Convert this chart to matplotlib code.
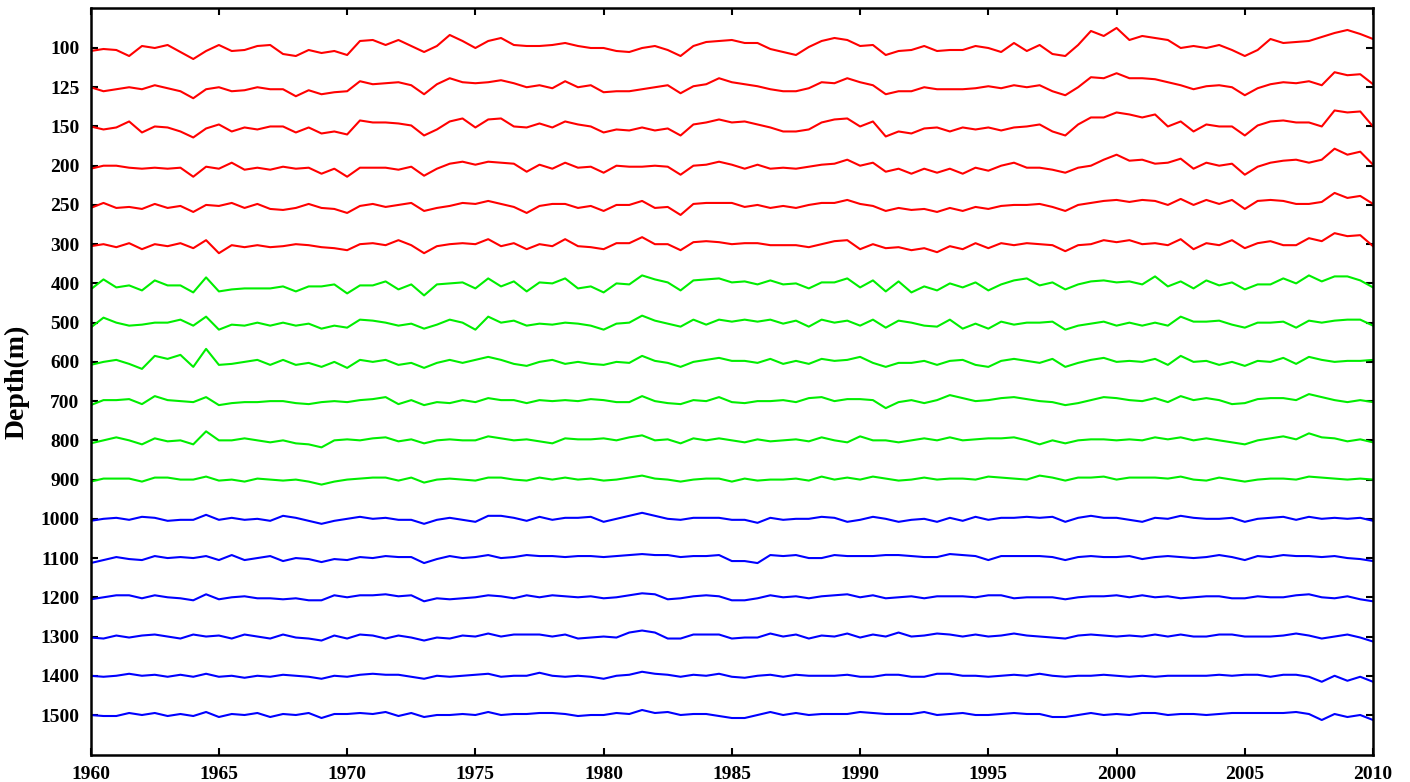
import numpy as np
import matplotlib
matplotlib.use("Agg")
import matplotlib.pyplot as plt

# time axis: half-year samples
years = np.arange(1960, 2010.01, 0.5)

depth_labels = ["100", "125", "150", "200", "250", "300", "400", "500", "600",
                "700", "800", "900", "1000", "1100", "1200", "1300", "1400", "1500"]

# anomalies (upward positive), one value per half year
s100 = [-3, -1, -2, -8, 2, 0, 3, -4, -11, -3, 3, -3, -2, 2, 3, -6, -8, -2, -5, -3, -7, 7, 8, 3, 8, 2,
        -4, 2, 13, 7, 0, 7, 10, 3, 2, 2, 3, 5, 2, 0, 0, -3, -4, 0, 2, -2, -8, 2, 6, 7, 8,
        5, 5, -1, -4, -7, 1, 7, 10, 8, 2, 3, -7, -3, -2, 2, -3, -2, -2, 2, 0, -4, 5, -3, 3, -6,
        -8, 3, 17, 12, 20, 8, 12, 10, 8, 0, 2, 0, 3, -2, -8, -2, 9, 5, 6, 7, 11, 15, 18, 14, 9]
s125 = [0, -4, -2, 0, -2, 2, -1, -4, -11, -2, 0, -4, -3, 0, -2, -2, -9, -3, -7, -5, -4, 6, 3, 4, 5, 2,
        -7, 3, 9, 5, 4, 5, 7, 4, 0, 2, -1, 6, 0, 2, -5, -4, -4, -2, 0, 2, -6, 1, 3, 9, 5,
        3, 1, -2, -4, -4, -1, 5, 4, 9, 5, 2, -7, -4, -4, 0, -2, -2, -2, -1, 1, -1, 2, 0, 2, -4,
        -8, 0, 10, 9, 14, 9, 9, 8, 5, 2, -2, 1, 2, 0, -8, -1, 3, 5, 4, 6, 2, 15, 12, 13, 3]
s150 = [0, -3, -1, 5, -6, 0, -1, -5, -11, -2, 2, -5, -1, -3, 0, 0, -6, -1, -7, -5, -8, 6, 4, 4, 3, 1,
        -9, -3, 5, 8, -1, 7, 8, 0, -1, 3, -1, 5, 2, 0, -6, -3, -4, -1, -4, -2, -9, 2, 4, 7, 4,
        5, 2, -1, -5, -5, -3, 4, 7, 8, 0, 5, -10, -5, -7, -2, -1, -5, -1, -3, -1, -4, -1, 0, 2, -5,
        -9, 2, 9, 9, 14, 12, 9, 12, 0, 5, -5, 2, 0, 0, -9, 1, 5, 6, 4, 4, 0, 16, 14, 15, 0]
s200 = [-3, 0, 0, -2, -3, -2, -3, -2, -11, -1, -3, 3, -4, -2, -4, -1, -3, -2, -8, -3, -11, -2, -2, -2, -4, -1,
        -10, -3, 2, 4, 1, 4, 3, 2, -6, 1, -3, 3, -2, -1, -7, 0, -1, -1, 0, -1, -9, 0, 1, 4, 1,
        -3, 1, -3, -2, -3, -1, 1, 2, 6, 0, 3, -6, -3, -8, -3, -7, -3, -8, -2, -5, 0, 3, -2, -2, -4,
        -7, -2, 0, 6, 11, 5, 6, 2, 3, 7, -3, 3, 0, 2, -9, -1, 3, 5, 6, 3, 6, 17, 11, 14, 1]
s250 = [-3, 2, -3, -2, -4, 1, -3, -1, -7, 0, -1, 2, -3, 1, -4, -5, -3, 1, -3, -4, -8, -1, 1, -2, 0, 2,
        -6, -3, -1, 2, 1, 4, 1, -2, -8, -1, 1, 1, -3, -1, -6, 0, 0, 4, -3, -2, -10, 1, 2, 2, 2,
        -2, 0, -3, -1, -3, 0, 2, 2, 5, 1, -1, -6, -3, -5, -4, -7, -3, -6, -2, -4, -1, 0, 0, 1, -2,
        -6, 0, 2, 4, 5, 3, 5, 4, 0, 6, 0, 5, 1, 5, -4, 4, 5, 4, 1, 1, 3, 12, 7, 9, 1]
s300 = [-2, 0, -3, 1, -5, 0, -2, 1, -4, 4, -9, -1, -3, -1, -3, -2, 0, -1, -3, -4, -6, 0, 1, -1, 4, -1,
        -9, -2, 0, 1, 0, 5, -2, 1, -5, 0, -2, 5, -2, -3, -5, 1, 1, 7, 0, 0, -6, 2, 3, 2, 0,
        1, 1, -1, -1, -1, -3, 0, 3, 4, -5, 0, -4, -3, -6, -4, -8, -2, -5, 1, -4, 1, -1, 1, 0, -1,
        -7, -1, 0, 4, 2, 4, 0, 1, -1, 5, -5, 1, -1, 4, -4, 1, 3, -1, -1, 6, 3, 11, 8, 9, -2]
s400 = [-6, 4, -4, -2, -7, 3, -2, -2, -9, 6, -8, -6, -5, -5, -5, -3, -8, -3, -3, -1, -10, -2, -2, 2, -6, -1,
        -12, -1, 0, 1, -5, 5, -3, 2, -8, 1, 0, 5, -5, -3, -9, 0, -1, 8, 4, 1, -7, 3, 4, 5, 1,
        2, -1, 3, -1, 0, -5, 1, 1, 5, -4, 3, -8, 2, -9, -3, -7, 0, -4, 1, -7, -1, 3, 5, -2, 1,
        -6, -1, 2, 3, 1, 2, -1, 7, -3, 2, -5, 3, -2, 1, -6, -1, -1, 5, 0, 8, 2, 7, 7, 3, -4]
s500 = [-5, 5, 0, -3, -2, 0, 0, 3, -3, 6, -7, -2, -3, 0, -3, 0, -3, -1, -6, -3, -5, 3, 2, 0, -3, -1,
        -6, -2, 3, 0, -7, 6, 0, 2, -3, -1, -2, 0, -1, -3, -7, -1, 0, 7, 2, -1, -4, 3, -2, 3, 1,
        3, 1, 3, -1, 2, -4, 3, 0, 2, -3, 3, -5, 2, 0, -3, -4, 3, -6, -1, -6, 1, -2, 0, 0, 1,
        -7, -3, -1, 1, -3, 0, -3, 0, -3, 6, 1, 1, 2, -2, -5, 0, 0, 1, -5, 2, 0, 2, 3, 3, -3]
s600 = [-3, 0, 2, -2, -7, 6, 3, 7, -5, 13, -3, -2, 0, 2, -3, 2, -3, -1, -5, 0, -6, 2, 0, 2, -3, -1,
        -6, -1, 2, -1, 2, 5, 2, -2, -4, 0, 2, -2, 0, -2, -3, 0, -1, 6, 1, -1, -5, 0, 2, 4, 1,
        1, -1, 3, -2, 1, -2, 3, 1, 2, 5, -1, -5, -1, -1, 1, -3, 1, 2, -3, -5, 1, 3, 1, -1, 3,
        -5, -1, 2, 4, 0, 1, 0, 3, -3, 6, 0, 1, -3, 0, -4, 1, 0, 4, -2, 5, 2, 0, 1, 1, 2]
s700 = [-4, 1, 1, 2, -3, 5, 1, 0, -1, 4, -4, -2, -1, -1, 0, 0, -2, -3, -1, 0, -1, 1, 2, 4, -3, 1,
        -4, -1, -2, 1, -1, 3, 1, 1, -2, 1, 0, 1, 0, 2, 1, -1, -1, 5, 0, -2, -3, 1, 0, 4, -1,
        -2, 0, 0, 1, -1, 3, 4, 0, 2, 2, 1, -7, -1, 1, -2, 1, 6, 3, 0, 1, 3, 4, 2, 0, -1,
        -4, -2, 1, 4, 3, 1, 0, 3, -1, 5, 1, 3, 1, -3, -2, 2, 3, 3, 1, 7, 4, 1, -1, 1, -1]
s800 = [-3, 0, 3, 0, -4, 2, -1, 0, -4, 9, 0, 0, 2, 0, -2, 0, -3, -4, -7, 0, 1, 0, 2, 3, -1, 1,
        -3, 0, 1, 0, 0, 4, 2, 0, 1, -1, -3, 2, 1, 1, 2, 0, 3, 5, 0, 1, -3, 2, 0, 2, 0,
        -2, 1, -1, 0, 1, -1, 3, 0, -2, 4, 0, 0, -2, 0, 2, 0, 3, 0, 1, 2, 2, 3, 0, -4, 0,
        -3, 0, 1, 1, 0, 1, 0, 3, 1, 3, 0, 2, 0, -2, -4, 0, 2, 4, 1, 7, 3, 2, -1, 1, -2]
s900 = [-2, 1, 1, 1, -2, 2, 2, 0, 0, 3, -1, 0, -2, 1, 0, -1, 0, -2, -5, -2, 0, 1, 2, 2, -1, 2,
        -3, 0, 1, 0, -1, 2, 2, 0, -1, 2, 0, 2, 0, 1, -1, 0, 2, 4, 1, 0, -2, 0, 1, 1, -2,
        1, -1, 0, 0, 1, -1, 3, 0, 2, 0, 3, 1, -1, 0, 2, 0, 1, 1, 0, 3, 2, 1, 0, 4, 2,
        -1, 2, 2, 3, 0, 2, 2, 2, 1, 3, 0, -1, 2, 0, -2, 0, 1, 1, 0, 3, 2, 1, 0, 1, 0]
s1000 = [-2, 0, 1, -1, 2, 1, -2, -1, -1, 4, -1, 1, -1, 0, -2, 3, 1, -2, -5, -2, 0, 2, 0, 1, -1, -1,
         -5, -1, 1, -1, -3, 3, 3, 1, -2, 2, -1, 1, 1, 2, -3, 0, 3, 6, 3, 0, -1, 1, 1, 1, -1,
         -1, -4, 1, -1, 0, 0, 2, 1, -3, -1, 2, 0, -3, -1, 0, -3, 1, -2, 2, -1, 1, 1, 2, 1, 2,
         -3, 1, 3, 1, 1, -1, -3, 1, 0, 3, 1, 0, 0, 1, -3, 0, 1, 2, -1, 2, 0, 1, 0, 1, -2]
s1100 = [-5, -2, 1, -1, -2, 2, 0, 1, 0, 2, -2, 3, -2, 0, 2, -3, 0, -1, -4, -1, -2, 1, 0, 2, 1, 1,
         -5, -1, 2, 0, 1, 3, 0, 1, 3, 2, 2, 1, 2, 2, 1, 2, 3, 4, 3, 3, 1, 2, 2, 3, -3,
         -3, -5, 3, 2, 3, 0, 0, 3, 2, 2, 2, 3, 3, 2, 1, 1, 4, 3, 2, -2, 2, 2, 2, 2, 1,
         -2, 1, 2, 1, 1, 2, -1, 1, 2, 1, 0, 1, 3, 1, -2, 2, 1, 3, 2, 2, 1, 2, 0, -1, -3]
s1200 = [-2, 0, 2, 2, -1, 2, 0, -1, -3, 3, -2, 0, 1, -1, -1, -2, -1, -3, -3, 2, 0, 2, 2, 3, 1, 2,
         -4, -1, -2, -1, 0, 2, 1, -1, 2, 0, 2, 1, 0, 1, -1, 0, 2, 4, 3, -2, -1, 1, 2, 1, -3,
         -3, -1, 2, 0, 1, -1, 1, 2, 3, 0, 2, -1, 0, 1, -1, 1, 1, 1, 0, 2, 2, -1, 0, 0, 0,
         -2, 0, 1, 1, 2, 0, 2, 0, 1, -1, 0, 1, 1, -1, -1, 1, 0, 0, 2, 3, 0, -1, 1, -2, -4]
s1300 = [-1, -2, 1, -1, 1, 2, 0, -2, 2, 0, 1, -2, 2, 0, -2, 2, -1, -2, -4, 1, -2, 2, 1, -2, 1, -1,
         -4, -1, -2, 1, 0, 3, 0, 2, 2, 2, 0, 2, -2, -1, 0, -1, 4, 6, 4, -2, -2, 2, 2, 2, -2,
         -1, -1, 3, 0, 2, -2, 1, 0, 3, -1, 2, 0, 4, 0, 1, 3, 2, 0, 2, 0, 1, 3, 1, 0, -1,
         -2, 1, 2, 1, 0, 1, 0, 2, 0, 2, 0, 0, 2, 2, 0, 0, 0, 1, 3, 1, -2, 0, 2, -1, -5]
s1400 = [0, -1, 0, 2, 0, 1, -1, 1, -1, 2, -1, 0, -2, 0, -1, 1, 0, -1, -3, 0, -1, 1, 2, 1, 1, -1,
         -3, 0, -1, 0, 1, 2, -1, 0, 0, 3, 0, -1, 0, -1, -3, 0, 1, 4, 2, 1, -1, 1, 0, 2, -1,
         -2, 0, 1, -1, 1, 0, 0, 0, 1, -1, -1, 1, 1, -1, -1, 2, 2, 0, 0, -1, 0, 1, 0, 2, 0,
         -1, 0, 0, 1, 0, -1, 0, -1, 0, 0, 0, 0, 1, 0, 1, 1, -1, 1, 1, -1, -6, 0, -5, -1, -6]
s1500 = [0, -1, -1, 2, 0, 2, -1, 1, -1, 3, -2, 1, 0, 2, -2, 1, 0, 2, -3, 1, 1, 2, 1, 3, -1, 2,
         -2, 0, 0, 1, 0, 3, 0, 1, 1, 2, 2, 1, -1, 0, 0, 2, 1, 5, 2, 3, 0, 1, 1, -1, -3,
         -3, 0, 3, 0, 2, 0, 1, 1, 1, 3, 2, 1, 1, 1, 3, 0, 1, 2, 0, 0, 1, 2, 1, 1, -2,
         -2, 0, 2, 0, 1, 0, 2, 2, 0, 1, 1, 0, 1, 2, 2, 2, 2, 2, 3, 1, -5, 1, -2, 0, -5]

series = [s100, s125, s150, s200, s250, s300,
          s400, s500, s600, s700, s800, s900,
          s1000, s1100, s1200, s1300, s1400, s1500]
colors = ["#ff0000"] * 6 + ["#00ee00"] * 6 + ["#0000ff"] * 6

scale = 1 / 39.2  # anomaly units per depth-row spacing

plt.rcParams['font.family'] = ['Liberation Serif', 'DejaVu Serif']
plt.rcParams['font.weight'] = 'bold'

fig = plt.figure(figsize=(14.1, 7.82), dpi=100)
ax = fig.add_axes([0.0643, 0.0345, 0.9095, 0.9553])

for i, (s, c) in enumerate(zip(series, colors)):
    ax.plot(years, i - np.array(s) * scale, color=c, lw=1.5)

ax.set_xlim(1960, 2010)
ax.set_ylim(18.02, -1.02)
ax.set_xticks(range(1960, 2011, 5))
ax.set_yticks(range(len(depth_labels)))
ax.set_yticklabels(depth_labels)
ax.tick_params(direction='in', length=5, width=1.5, top=True, right=True,
               labelsize=14, pad=8)
for lab in ax.get_xticklabels() + ax.get_yticklabels():
    lab.set_fontweight('bold')
for sp in ax.spines.values():
    sp.set_linewidth(1.8)

ax.set_ylabel("Depth(m)", fontsize=20, fontweight='bold', labelpad=8)

fig.savefig("out.png", dpi=100)
